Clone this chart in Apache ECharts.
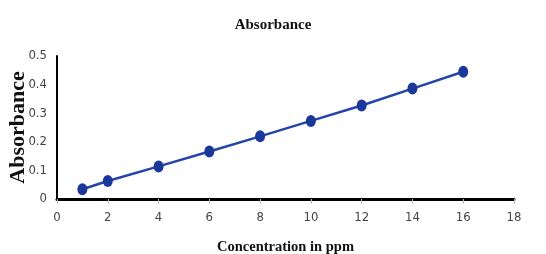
<!DOCTYPE html>
<html>
<head>
<meta charset="utf-8">
<script src="https://cdn.jsdelivr.net/npm/echarts@6/dist/echarts.min.js"></script>
<style>
    html, body { margin: 0; padding: 0; background: #fff; }
    #absChart { width: 546px; height: 254px; }
</style>
</head>
<body>
<div id="absChart"></div>
<script>
// concentration (ppm) and absorbance
let concentration = [1, 2, 4, 6, 8, 10, 12, 14, 16]
let absorbance = [0.034, 0.063, 0.114, 0.166, 0.219, 0.273, 0.327, 0.386, 0.445]

let chart = echarts.init(document.getElementById('absChart'))
let points = concentration.map((c, i) => [c, absorbance[i]])
let labelFont = '"DejaVu Sans Condensed", "Liberation Sans", sans-serif'

let option = {
    animation: false,
    title: {
        text: 'Absorbance',
        left: 'center',
        top: 13,
        textStyle: { fontFamily: 'Liberation Serif', fontWeight: 'bold', fontSize: 15, color: '#111' }
    },
    grid: { left: 57, right: 32, top: 56, bottom: 55, outerBoundsMode: 'none' },
    xAxis: {
        type: 'value',
        min: 0,
        max: 18,
        interval: 2,
        name: 'Concentration in ppm',
        nameLocation: 'middle',
        nameGap: 41,
        nameMoveOverlap: false,
        nameTextStyle: { fontFamily: 'Liberation Serif', fontWeight: 'bold', fontSize: 14.5, color: '#111' },
        axisLine: { lineStyle: { color: '#000', width: 3 } },
        axisTick: { show: true, length: 5, lineStyle: { color: '#bbb' } },
        axisLabel: { fontFamily: labelFont, fontSize: 13, color: '#444', margin: 12 },
        splitLine: { show: false }
    },
    yAxis: {
        type: 'value',
        min: 0,
        max: 0.5,
        interval: 0.1,
        name: 'Absorbance',
        nameLocation: 'middle',
        nameGap: 28,
        nameMoveOverlap: false,
        nameTextStyle: { fontFamily: 'Liberation Serif', fontWeight: 'bold', fontSize: 22, color: '#111' },
        axisLine: { show: true, lineStyle: { color: '#000', width: 2 } },
        axisTick: { show: false },
        axisLabel: { fontFamily: labelFont, fontSize: 13, color: '#444', margin: 10 },
        splitLine: { show: false }
    },
    series: [
        {
            type: 'line',
            data: points,
            symbol: 'circle',
            symbolSize: [10, 12],
            lineStyle: { color: '#2445a8', width: 2.5 },
            itemStyle: { color: '#1a3799' }
        }
    ]
}
chart.setOption(option)
</script>
</body>
</html>
